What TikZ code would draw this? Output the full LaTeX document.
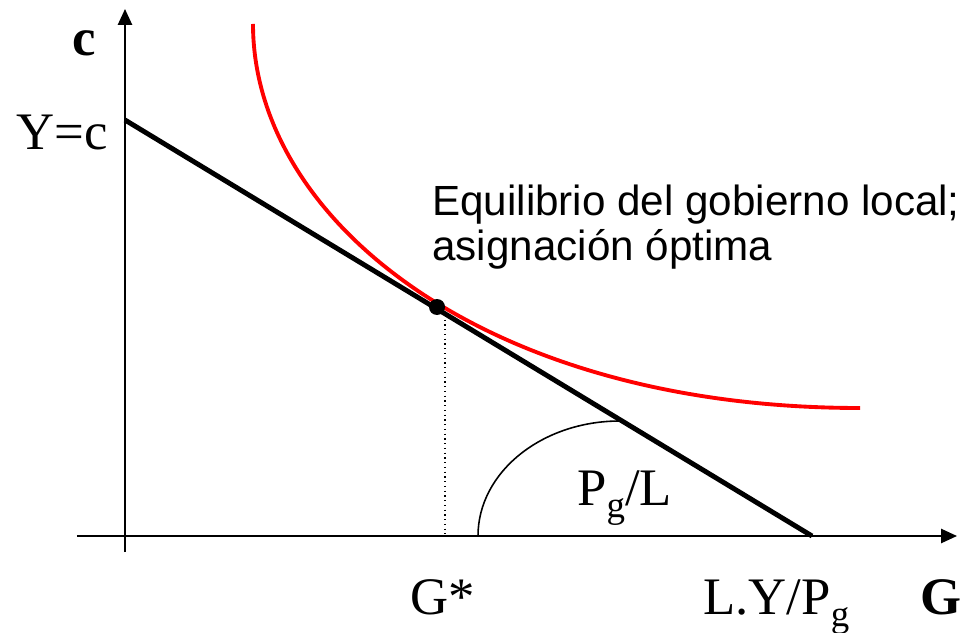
\documentclass[tikz,border=0pt]{standalone}
\usepackage{fontspec}
\setmainfont{Liberation Serif}
\newfontfamily\arialfont{Liberation Sans}
\usetikzlibrary{arrows.meta}
\tikzset{axis/.style={line width=1.1pt,-{Triangle[length=9pt,width=8pt]}}}
\newcommand{\sub}[1]{\raisebox{-7pt}{\fontsize{21}{21}\selectfont #1}}

\begin{document}
\begin{tikzpicture}[
  budget/.style={line width=2.8pt},
  indif/.style={red,line width=2.2pt},
  lbl/.style={font=\fontsize{30}{32}\selectfont,inner sep=0pt,anchor=base west}
]
\useasboundingbox (-2.5,-1.92) rectangle (17.02,10.72);
\coordinate (ybot) at (0,-0.32);
\coordinate (ytop) at (0,10.54);
\coordinate (xleft) at (-0.96,0);
\coordinate (xright) at (16.64,0);
\coordinate (yc) at (0,8.32);
\coordinate (lyp) at (13.74,0);
\coordinate (eqtop) at (6.4,4.42);
\coordinate (gstar) at (6.4,0);
\coordinate (arcstart) at (7.06,0);
\coordinate (ustart) at (2.56,10.24);
\coordinate (uend) at (14.7,2.56);
% axes
\draw[axis] (ybot) -- (ytop);
\draw[axis] (xleft) -- (xright);
% budget line and indifference curve
\draw[budget] (yc) -- (lyp);
\draw[indif] (ustart) .. controls (2.56,6.32) and (7.2,2.56) .. (uend);
\node[circle,fill,inner sep=0pt,minimum size=0.32cm] (eq) at (6.24,4.58) {};
\draw[dotted,line width=0.7pt] (eqtop) -- (gstar);
\draw[line width=0.9pt] (arcstart) arc[start angle=180,end angle=90,x radius=2.84,y radius=2.3];
% labels
\node[lbl,font=\fontsize{30}{32}\selectfont\bfseries] (clab) at (-1.06,9.6) {c};
\node[lbl,anchor=base east] (yclab) at (-0.34,7.72) {Y=c};
\node[anchor=north west,inner sep=0pt,align=left,font=\arialfont\fontsize{24}{25.6}\selectfont] (eqtxt) at (6.14,7.02) {Equilibrio del gobierno local;\\asignación óptima};
\node[lbl] (pglab) at (9.04,0.62) {P\sub{g}/L};
\node[lbl] (gslab) at (5.7,-1.56) {G*};
\node[lbl] (lylab) at (11.56,-1.56) {L.Y/P\sub{g}};
\node[lbl,font=\fontsize{30}{32}\selectfont\bfseries] (glab) at (15.9,-1.56) {G};
\end{tikzpicture}
\end{document}
